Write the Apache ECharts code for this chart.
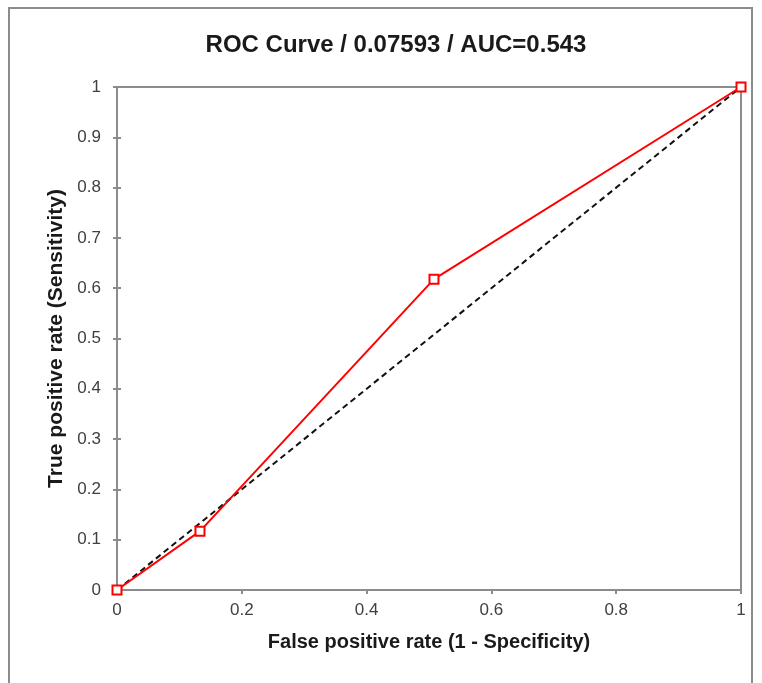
<!DOCTYPE html>
<html>
<head>
<meta charset="utf-8">
<script src="https://cdn.jsdelivr.net/npm/echarts@6/dist/echarts.min.js"></script>
<style>
  html, body { margin: 0; padding: 0; background: #fff; }
  #chart { width: 762px; height: 683px; }
</style>
</head>
<body>
<div id="chart"></div>
<script>
// ROC points (FPR, TPR)
var fpr = [0, 0.133, 0.508, 1];
var tpr = [0, 0.117, 0.618, 1];
// reference diagonal
var diagX = [0, 1];
var diagY = [0, 1];

var rocData = fpr.map(function (x, i) { return [x, tpr[i]]; });
var diagData = diagX.map(function (x, i) { return [x, diagY[i]]; });

var axisGray = '#8c8c8c';
var labelGray = '#404040';
var font = 'Liberation Sans, Arial';

// second copy of each axis only draws the inner half of the ticks (ticks cross the axis)
function tickOverlay(interval) {
  return {
    type: 'value', min: 0, max: 1, interval: interval,
    axisLine: { show: false },
    axisTick: { show: true, inside: true, length: 4, lineStyle: { color: axisGray, width: 2 } },
    axisLabel: { show: false },
    splitLine: { show: false }
  };
}

var chart = echarts.init(document.getElementById('chart'));
chart.setOption({
  animation: false,
  title: {
    text: 'ROC Curve / 0.07593 / AUC=0.543',
    left: 391,
    textAlign: 'center',
    top: 28,
    textStyle: { fontFamily: font, fontSize: 24, fontWeight: 'bold', color: '#1a1a1a' }
  },
  grid: { left: 117, top: 87, right: 21, bottom: 93, show: true, borderColor: axisGray, borderWidth: 2 },
  graphic: [{
    type: 'rect',
    shape: { x: 9, y: 8, width: 743, height: 690 },
    style: { fill: 'none', stroke: '#8c8c8c', lineWidth: 2 },
    silent: true
  }],
  xAxis: [{
    type: 'value', min: 0, max: 1, interval: 0.2,
    name: 'False positive rate (1 - Specificity)',
    nameLocation: 'middle', nameGap: 42,
    nameTextStyle: { fontFamily: font, fontSize: 20, fontWeight: 'bold', color: '#1a1a1a' },
    axisLine: { lineStyle: { color: axisGray, width: 2 } },
    axisTick: { show: true, length: 4, lineStyle: { color: axisGray, width: 2 } },
    axisLabel: { margin: 12, fontFamily: font, fontSize: 17, color: labelGray },
    splitLine: { show: false }
  }, tickOverlay(0.2)],
  yAxis: [{
    type: 'value', min: 0, max: 1, interval: 0.1,
    name: 'True positive rate (Sensitivity)',
    nameLocation: 'middle', nameGap: 50,
    nameTextStyle: { fontFamily: font, fontSize: 21, fontWeight: 'bold', color: '#1a1a1a' },
    axisLine: { lineStyle: { color: axisGray, width: 2 } },
    axisTick: { show: true, length: 4, lineStyle: { color: axisGray, width: 2 } },
    axisLabel: { margin: 16, fontFamily: font, fontSize: 17, color: labelGray },
    splitLine: { show: false }
  }, Object.assign(tickOverlay(0.1), { position: 'left' })],
  series: [{
    type: 'line',
    data: diagData,
    symbol: 'none',
    lineStyle: { color: '#111', width: 2, type: [6, 4] },
    z: 2
  }, {
    type: 'line',
    data: rocData,
    symbol: 'rect',
    symbolSize: 9,
    itemStyle: { color: '#fff', borderColor: '#ff0000', borderWidth: 2 },
    lineStyle: { color: '#ff0000', width: 2 },
    z: 3
  }]
});
</script>
</body>
</html>
